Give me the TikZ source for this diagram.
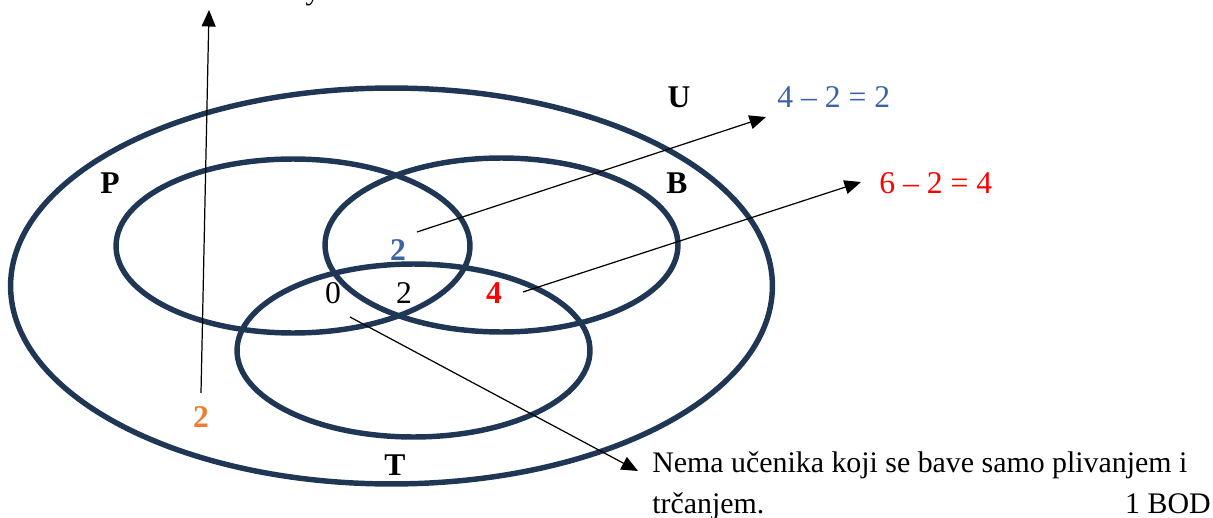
\documentclass[tikz,border=0pt]{standalone}
\usepackage{fontspec}
\setmainfont{Liberation Serif}
\usetikzlibrary{arrows.meta}
\definecolor{setnavy}{HTML}{1F3754}
\definecolor{eqblue}{HTML}{3C64A5}
\definecolor{eqorange}{HTML}{ED7D31}
\definecolor{eqred}{HTML}{FF0000}
\tikzset{
  setring/.style={draw=setnavy, line width=3.1pt},
  setlabel/.style={font=\fontsize{18}{20}\selectfont\bfseries, inner sep=0pt},
  numlabel/.style={font=\fontsize{18}{20}\selectfont, inner sep=0pt},
  boldnum/.style={font=\fontsize{18}{20}\selectfont\bfseries, inner sep=0pt},
  eqlabel/.style={font=\fontsize{18}{20}\selectfont, inner sep=0pt, anchor=west},
  bodytext/.style={font=\fontsize{17}{20}\selectfont, inner sep=0pt, anchor=base west},
  pointer/.style={draw=black, line width=0.7pt, -{Triangle[length=0.33cm,width=0.28cm]}}
}
\begin{document}
\begin{tikzpicture}[x={(0.02cm,0)}, y={(0,-0.02cm)}]
\useasboundingbox (0,0) rectangle (1213,517);
% sets
\draw[setring] (391.5,286) ellipse [x radius=7.62cm, y radius=3.96cm];
\draw[setring] (293,246) ellipse [x radius=3.54cm, y radius=1.74cm];
\draw[setring] (501.5,245) ellipse [x radius=3.53cm, y radius=1.74cm];
\draw[setring] (413.5,350.5) ellipse [x radius=3.53cm, y radius=1.73cm];
% set labels
\node[setlabel] (lu) at (679,97) {U};
\node[setlabel] (lp) at (110,183) {P};
\node[setlabel] (lb) at (677,183) {B};
\node[setlabel] (lt) at (395,465) {T};
% region numbers
\node[boldnum, text=eqblue] (nblue) at (398,250) {2};
\node[numlabel] (nzero) at (333,293) {0};
\node[numlabel] (ntwo) at (404,293) {2};
\node[boldnum, text=eqred] (nred) at (494,293) {4};
\node[boldnum, text=eqorange] (norange) at (201,417) {2};
% equations
\node[eqlabel, text=eqblue] (eqa) at (777,97) {4 – 2 = 2};
\node[eqlabel, text=eqred] (eqb) at (879,183) {6 – 2 = 4};
% explanatory text
\node[bodytext] (txa) at (652,472) {Nema učenika koji se bave samo plivanjem i};
\node[bodytext] (txb) at (652,513) {trčanjem.};
\node[bodytext, anchor=base east] (txc) at (1211,513) {1 BOD};
% cut-off text at the top (cut in the reference as well)
\node[bodytext, anchor=base] (cut) at (313,0) {y};
% arrow ends
\coordinate (sa) at (201,393);
\coordinate (ea) at (209,10);
\coordinate (sb) at (417,232);
\coordinate (eb) at (766,117);
\coordinate (sc) at (523,292);
\coordinate (ec) at (861,182);
\coordinate (sd) at (350,317);
\coordinate (ed) at (638,471);
\draw[pointer] (sa) -- (ea);
\draw[pointer] (sb) -- (eb);
\draw[pointer] (sc) -- (ec);
\draw[pointer] (sd) -- (ed);
\end{tikzpicture}
\end{document}
